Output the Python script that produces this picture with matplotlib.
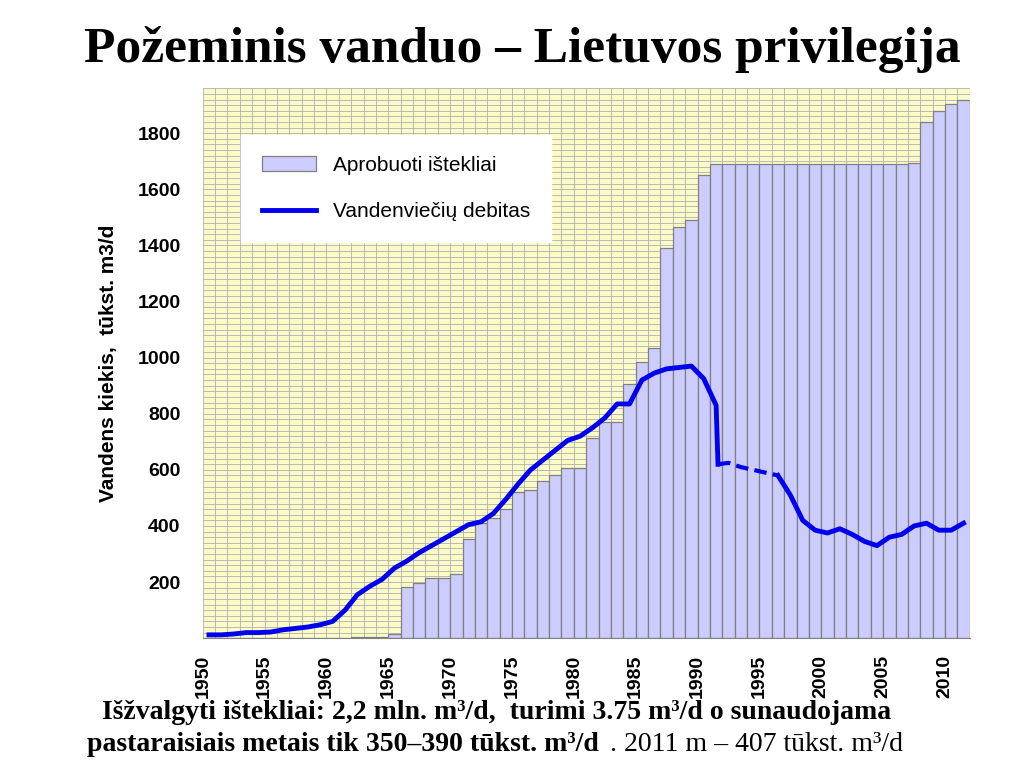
import numpy as np
from matplotlib import pyplot as plt
from matplotlib.ticker import MultipleLocator, FixedLocator

# approved resources, one bar per year 1950..2011
bar_years = list(range(1950, 2012))
bar_values = ([0] * 12 + [3, 3, 3, 15, 183, 195, 215, 215, 228, 355, 410, 430,
              460, 520, 530, 560, 580, 605, 605, 715, 770, 770, 905, 985,
              1035, 1390, 1465, 1490, 1650] + [1690] * 16 +
              [1695, 1840, 1880, 1905, 1920])

# well field output
debit_years = list(range(1950, 1992)) + [1991.15]
debit_values = [12, 12, 15, 20, 20, 22, 30, 35, 40, 48, 60, 100, 155, 185, 210,
                250, 275, 305, 330, 355, 380, 405, 415, 445, 495, 550, 600, 635,
                670, 705, 720, 750, 785, 835, 835, 920, 945, 960, 965, 970, 925,
                830, 620]
dash_years = [1991.15, 1992, 1993, 1994, 1995, 1996]
dash_values = [620, 625, 610, 600, 590, 580]
late_years = list(range(1996, 2012))
late_values = [580, 510, 420, 385, 375, 390, 370, 345, 330, 360, 370, 400,
               410, 385, 385, 410]

fig = plt.figure()
fig.set_size_inches(10.24, 7.68)
ax = fig.add_axes([0.198, 0.169, 0.749, 0.716])
ax.set_facecolor('#fbfbc8')

ax.bar(bar_years, bar_values, width=1.0, align='edge', color='#ccccff',
       edgecolor='#808080', linewidth=0.9, zorder=2,
       label='Aprobuoti ištekliai')
ax.plot(np.array(debit_years) + 0.5, debit_values, '-', color='#0000ee',
        linewidth=3.5, zorder=3, label='Vandenviečių debitas')
ax.plot(np.array(dash_years) + 0.5, dash_values, '--', color='#0000ee',
        linewidth=3, zorder=3, dashes=(3, 1.5))
ax.plot(np.array(late_years) + 0.5, late_values, '-', color='#0000ee',
        linewidth=3.5, zorder=3)

ax.set_xlim(1950, 2012)
ax.set_ylim(0, 1960)
ax.xaxis.set_major_locator(MultipleLocator(5))
ax.xaxis.set_minor_locator(MultipleLocator(1))
ax.yaxis.set_major_locator(FixedLocator(range(200, 2000, 200)))
ax.yaxis.set_minor_locator(MultipleLocator(20))
ax.grid(True, which='both', color='#b0b0b0', linewidth=0.6, zorder=0)
ax.set_axisbelow(True)
for s in ['top', 'right', 'left']:
    ax.spines[s].set_visible(False)
ax.spines['bottom'].set_color('#808080')
ax.tick_params(which='both', length=0)
ax.tick_params(axis='x', pad=12)
for lab in ax.get_xticklabels():
    lab.set_rotation(90)
    lab.set_fontweight('bold')
    lab.set_fontsize(14)
    lab.set_fontfamily('Liberation Sans')
for lab in ax.get_yticklabels():
    lab.set_fontweight('bold')
    lab.set_fontsize(14)
    lab.set_fontfamily('Liberation Sans')
ax.tick_params(axis='y', pad=16)

ax.set_ylabel('Vandens kiekis,  tūkst. m3/d', fontsize=15, fontweight='bold',
              family='Liberation Sans', labelpad=14)

handles, labels = ax.get_legend_handles_labels()
leg = ax.legend(handles[::-1], labels[::-1], loc='upper left',
                bbox_to_anchor=(0.05, 0.915), frameon=True, fancybox=False,
                edgecolor='white', borderpad=1.0, labelspacing=1.3,
                handlelength=2.6, borderaxespad=0,
                prop={'family': 'Liberation Sans', 'size': 15})
leg.get_frame().set_alpha(1)

fig.text(0.51, 0.935, 'Požeminis vanduo – Lietuvos privilegija', ha='center',
         va='center', fontsize=37, fontweight='bold', family='Liberation Serif')
fig.text(0.1, 0.072, 'Išžvalgyti ištekliai: 2,2 mln. m³/d,  turimi 3.75 m³/d o sunaudojama',
         va='center', fontsize=20, fontweight='bold', family='Liberation Serif')
t = fig.text(0.085, 0.03, 'pastaraisiais metais tik 350–390 tūkst. m³/d',
             va='center', fontsize=20, fontweight='bold', family='Liberation Serif')
fig.canvas.draw()
bb = t.get_window_extent().transformed(fig.transFigure.inverted())
fig.text(bb.x1 + 0.004, 0.03, ' . 2011 m – 407 tūkst. m³/d', va='center',
         fontsize=20, family='Liberation Serif')

fig.savefig('out.png', dpi=100)
